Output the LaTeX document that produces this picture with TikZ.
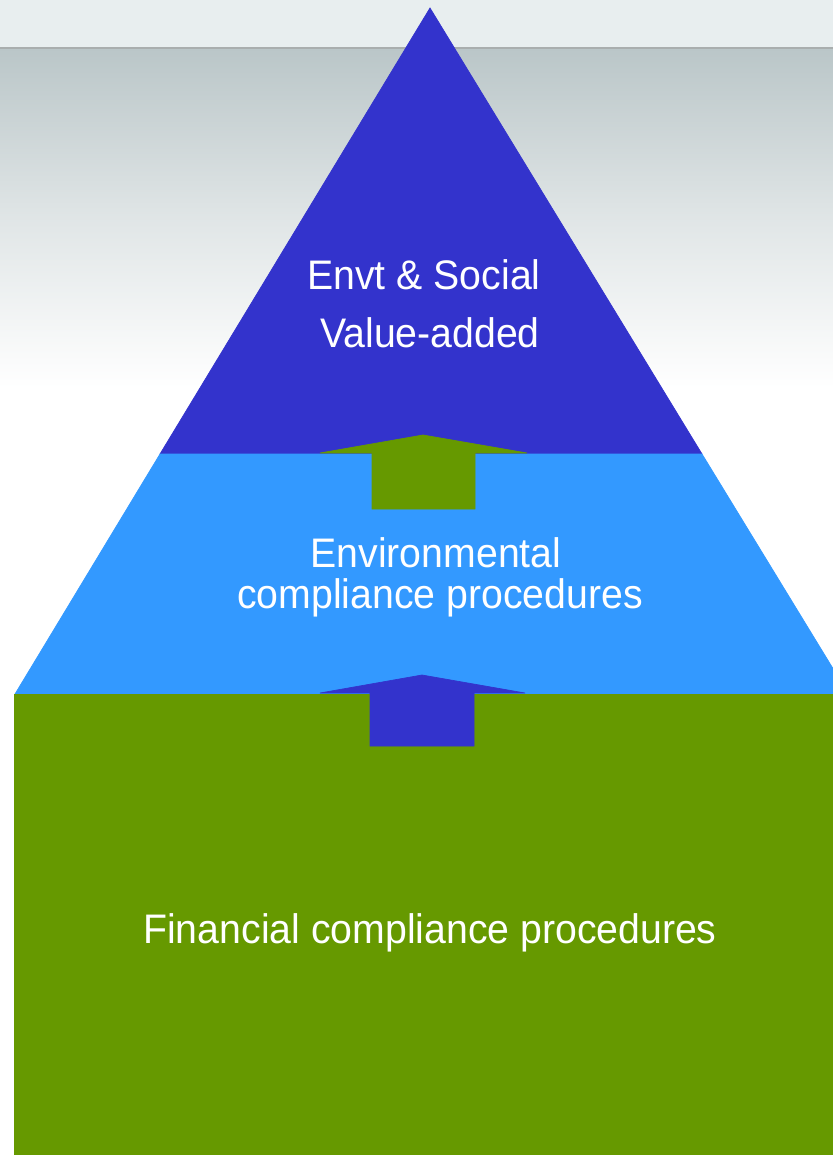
\documentclass[tikz,border=0pt]{standalone}
\usepackage{fontspec}
\setmainfont{Liberation Sans}
\definecolor{topblue}{HTML}{3333CC}
\definecolor{midblue}{HTML}{3399FF}
\definecolor{basegreen}{HTML}{669900}
\definecolor{bandgray}{HTML}{E8EEEF}
\definecolor{rulegray}{HTML}{A9AEAE}
\definecolor{shadegray}{HTML}{BAC6C8}
\tikzset{label text/.style={text=white,inner sep=0pt,anchor=base,xscale=0.95,
    font=\fontsize{23.5}{28}\selectfont}}
\begin{document}
\begin{tikzpicture}[x=0.02cm,y=-0.02cm]
    \useasboundingbox (0,0) rectangle (832,1155);
    % background
    \fill[color=bandgray] (0,0) rectangle (840,48);
    \shade[top color=shadegray,bottom color=white,middle color=shadegray!45!white] (0,48) rectangle (840,388);
    \draw[color=rulegray,line width=0.04cm] (0,48)--(840,48);
    % three levels
    \draw[fill,color=topblue] (430,8) -- (702,454) -- (160,454) -- cycle;
    \draw[fill,color=midblue] (160,454) -- (702,454) -- (840,680) -- (840,694) -- (15,694) -- cycle;
    \draw[fill,color=basegreen] (14,694) rectangle (840,1160);
    % arrows between levels
    \draw[fill,color=basegreen] (423,435) -- (527,453) -- (475,453) -- (475,509) -- (372,509) -- (372,453) -- (320,453) -- cycle;
    \draw[fill,color=topblue] (422,675) -- (525,693) -- (474,693) -- (474,746) -- (370,746) -- (370,693) -- (320,693) -- cycle;
    % texts
    \node[label text] (envt) at (424,290) {Envt \& Social};
    \node[label text] (valueadded) at (430,347) {Value-added};
    \node[label text] (environ) at (436,567) {Environmental};
    \node[label text] (complproc) at (440,608) {compliance procedures};
    \node[label text] (financial) at (430,943) {Financial compliance procedures};
\end{tikzpicture}
\end{document}
